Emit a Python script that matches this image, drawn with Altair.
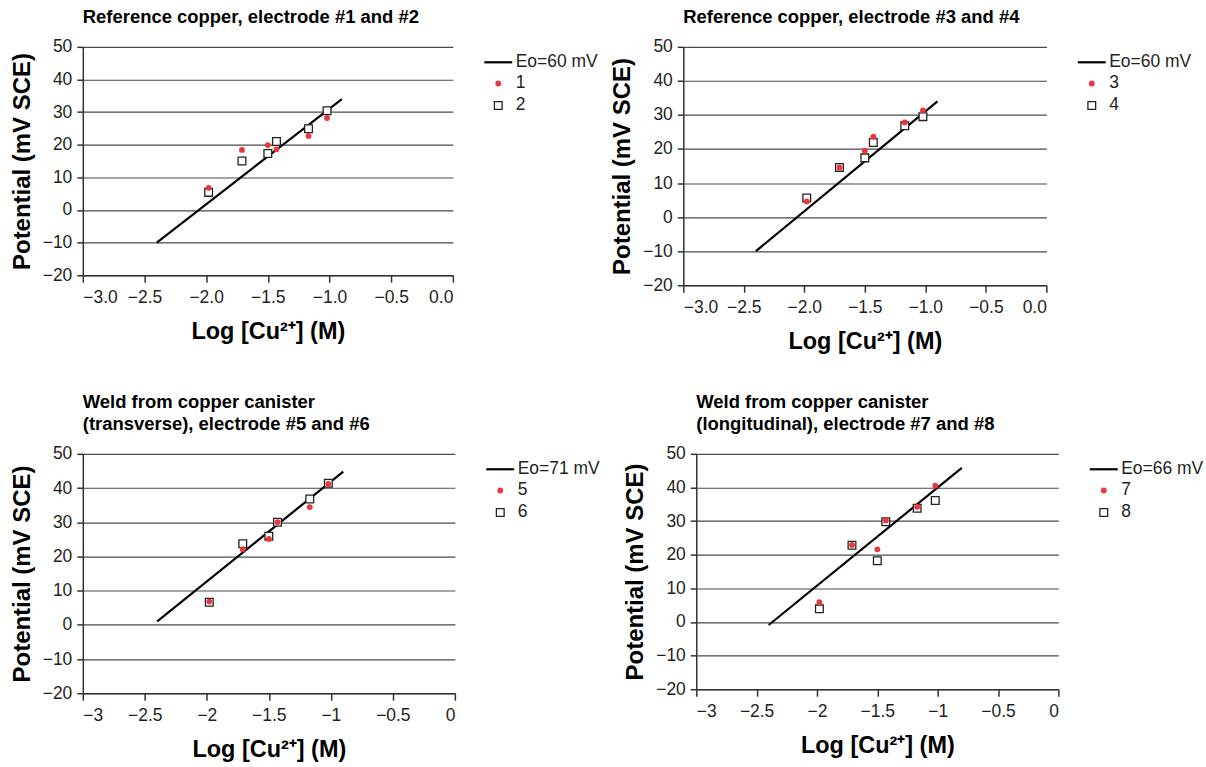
import altair as alt
import pandas as pd

# ---------------- data ----------------
logc = [-1.98, -1.71, -1.50, -1.43, -1.17, -1.02]

s1 = [6.8, 18.4, 19.9, 18.6, 22.7, 28.2]
s2 = [5.4, 15.0, 17.3, 21.0, 24.9, 30.4]
s3 = [4.6, 14.6, 19.5, 23.6, 27.8, 31.3]
s4 = [5.6, 14.6, 17.4, 21.9, 26.8, 29.5]
s5 = [6.8, 22.1, 25.1, 30.0, 34.4, 41.2]
s6 = [6.6, 23.7, 25.9, 30.0, 36.8, 41.4]
s7 = [5.9, 22.9, 21.6, 30.2, 34.2, 40.5]
s8 = [3.9, 22.8, 18.2, 29.8, 33.8, 36.1]

fit_x = [[-2.4, -0.9], [-2.4, -0.9], [-2.4, -0.9], [-2.4, -0.8]]
fit_y = [[-10, 34], [-10, 34], [1.0, 44.8], [-0.9, 45.8]]
fit_labels = ["Eo=60 mV", "Eo=60 mV", "Eo=71 mV", "Eo=66 mV"]
series_names = [["1", "2"], ["3", "4"], ["5", "6"], ["7", "8"]]
series_vals = [[s1, s2], [s3, s4], [s5, s6], [s7, s8]]
titles = [
    "Reference copper, electrode #1 and #2",
    "Reference copper, electrode #3 and #4",
    ["Weld from copper canister", "(transverse), electrode #5 and #6"],
    ["Weld from copper canister", "(longitudinal), electrode #7 and #8"],
]
x_ticks = [-3, -2.5, -2, -1.5, -1, -0.5, 0]
y_ticks = [-20, -10, 0, 10, 20, 30, 40, 50]
x_formats = [".1f", ".1f", "~g", "~g"]
sizes = [(371, 229), (364, 239), (373, 240), (363, 236)]

RED = "#e8383d"
FONT = "Liberation Sans"


def panel(i):
    a, b = series_names[i]
    va, vb = series_vals[i]
    # squares first so the red dots are drawn on top
    pts = pd.DataFrame({
        "x": logc + logc,
        "y": vb + va,
        "s": [b] * len(logc) + [a] * len(logc),
    })
    line = pd.DataFrame({"x": fit_x[i], "y": fit_y[i]})
    dom = [fit_labels[i], a, b]

    xax = alt.X("x:Q", scale=alt.Scale(domain=[-3, 0], nice=False),
                axis=alt.Axis(title="Log [Cu²⁺] (M)", values=x_ticks,
                              format=x_formats[i], grid=False, labelOverlap=False))
    yax = alt.Y("y:Q", scale=alt.Scale(domain=[-20, 50], nice=False),
                axis=alt.Axis(title="Potential (mV SCE)", values=y_ticks,
                              grid=True, labelOverlap=False))

    l = alt.Chart(line).mark_line(color="black", strokeWidth=2.2).encode(x=xax, y=yax)
    p = alt.Chart(pts).mark_point(opacity=1).encode(
        x=xax, y=yax,
        shape=alt.Shape("s:N", scale=alt.Scale(domain=dom, range=["stroke", "circle", "square"]),
                        legend=alt.Legend(title=None)),
        fill=alt.Fill("s:N", scale=alt.Scale(domain=dom, range=["black", RED, "white"]),
                      legend=alt.Legend(title=None)),
        stroke=alt.Stroke("s:N", scale=alt.Scale(domain=dom, range=["black", RED, "#222222"]),
                          legend=alt.Legend(title=None)),
        size=alt.Size("s:N", scale=alt.Scale(type="ordinal", domain=dom, range=[784, 34, 60]),
                      legend=alt.Legend(title=None)),
        strokeWidth=alt.StrokeWidth("s:N", scale=alt.Scale(type="ordinal", domain=dom,
                                                           range=[2.2, 0.01, 1.3]),
                                    legend=alt.Legend(title=None)),
    )
    w, h = sizes[i]
    return alt.layer(l, p).properties(
        width=w, height=h,
        title=alt.Title(titles[i], anchor="start", frame="group", font=FONT, offset=11,
                        fontSize=18.5, fontWeight="bold", color="black", lineHeight=22),
    )


def ind(c):
    return c.resolve_scale(x="independent", y="independent", shape="independent",
                           fill="independent", stroke="independent", size="independent",
                           strokeWidth="independent").resolve_legend(
        shape="independent", fill="independent", stroke="independent",
        size="independent", strokeWidth="independent")


row1 = ind(alt.hconcat(panel(0), panel(1), spacing=12))
row2 = ind(alt.hconcat(panel(2), panel(3), spacing=23))
chart = ind(alt.vconcat(row1, row2, spacing=40)).configure(
    font=FONT,
).configure_view(stroke=None).configure_axis(
    labelFont=FONT, labelFontSize=17.5, labelColor="#231f20",
    titleFont=FONT, titleFontWeight="bold", titleColor="black",
    domainColor="#333333", domainWidth=1.5, tickColor="#333333", tickWidth=1.5,
    gridColor="#4a4a4a", gridWidth=1.2,
).configure_axisX(
    titlePadding=14, titleFontSize=23.5, tickSize=7, labelPadding=6,
).configure_axisY(
    titlePadding=8, titleFontSize=24, tickSize=6, labelPadding=5,
).configure_legend(
    labelFontSize=17.5, labelFont=FONT, labelColor="#231f20", orient="right", offset=30,
    rowPadding=3, labelOffset=2, padding=0,
).properties(padding={"left": 10, "top": 7, "right": 2, "bottom": 2})

chart.save("out.html", embed_options={"renderer": "svg", "actions": False})
